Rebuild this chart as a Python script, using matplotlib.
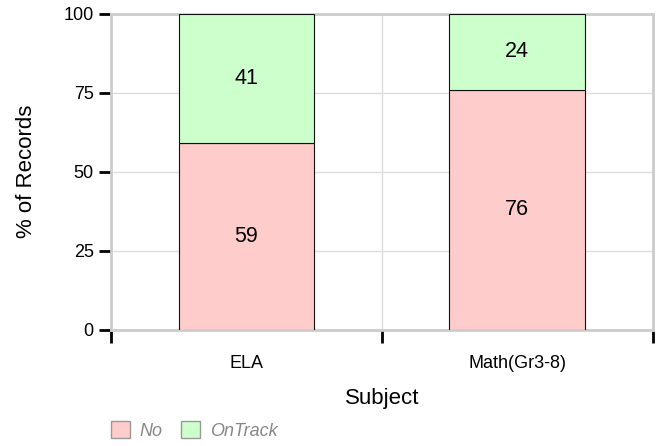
import matplotlib
matplotlib.use("Agg")
import matplotlib.pyplot as plt
from matplotlib.patches import Patch
import numpy as np

plt.rcParams['font.family'] = ['Liberation Sans', 'DejaVu Sans']

subjects = ["ELA", "Math(Gr3-8)"]
no_vals = [59, 76]
ontrack_vals = [41, 24]
series_names = ["No", "OnTrack"]
series_colors = ["#FFCCCC", "#CCFFCC"]
y_ticks = [0, 25, 50, 75, 100]

fig = plt.figure(figsize=(6.57, 4.46), dpi=100)
ax = fig.add_axes([111/657, 1 - 329.5/446, 541.5/657, 315.5/446])

x = np.arange(len(subjects))
w = 0.5
ax.bar(x, no_vals, width=w, color=series_colors[0], edgecolor="#111111", linewidth=0.8, zorder=3)
ax.bar(x, ontrack_vals, width=w, bottom=no_vals, color=series_colors[1], edgecolor="#111111", linewidth=0.8, zorder=3)

for xi, n, o in zip(x, no_vals, ontrack_vals):
    ax.text(xi, n / 2, str(n), ha="center", va="center", fontsize=15.5, zorder=4)
    ax.text(xi, n + o / 2, str(o), ha="center", va="center", fontsize=15.5, zorder=4)

ax.set_xlim(-0.5, len(subjects) - 0.5)
ax.set_ylim(0, 100)

ax.set_xticks(x)
ax.set_xticklabels(subjects, fontsize=13)
ax.set_xticks(np.arange(len(subjects) + 1) - 0.5, minor=True)
ax.tick_params(axis="x", which="major", length=0, pad=18)
ax.tick_params(axis="x", which="minor", length=9.5, width=2, color="black")

ax.set_yticks(y_ticks)
ax.set_yticklabels([str(v) for v in y_ticks], fontsize=13)
ax.tick_params(axis="y", which="major", length=8.5, width=2, color="black", pad=4)

ax.grid(axis="y", which="major", color="#dddddd", linewidth=1, zorder=0)
ax.grid(axis="x", which="minor", color="#dddddd", linewidth=1, zorder=0)
ax.set_axisbelow(True)

for s in ax.spines.values():
    s.set_color("#cccccc")
    s.set_linewidth(2)

ax.set_xlabel("Subject", fontsize=16, labelpad=12)
ax.set_ylabel("% of Records", fontsize=16, labelpad=19)

handles = [Patch(facecolor=c, edgecolor="#999999", linewidth=1) for c in series_colors]
leg = fig.legend(handles, series_names, loc="lower left", bbox_to_anchor=(111/657, 0.014),
                 ncol=2, frameon=False, borderpad=0, borderaxespad=0,
                 handlelength=1.05, handleheight=1.05, handletextpad=0.55, columnspacing=1.0,
                 prop={"size": 13, "style": "italic"})
for t in leg.get_texts():
    t.set_color("#888888")

fig.savefig("out.png", dpi=100)
